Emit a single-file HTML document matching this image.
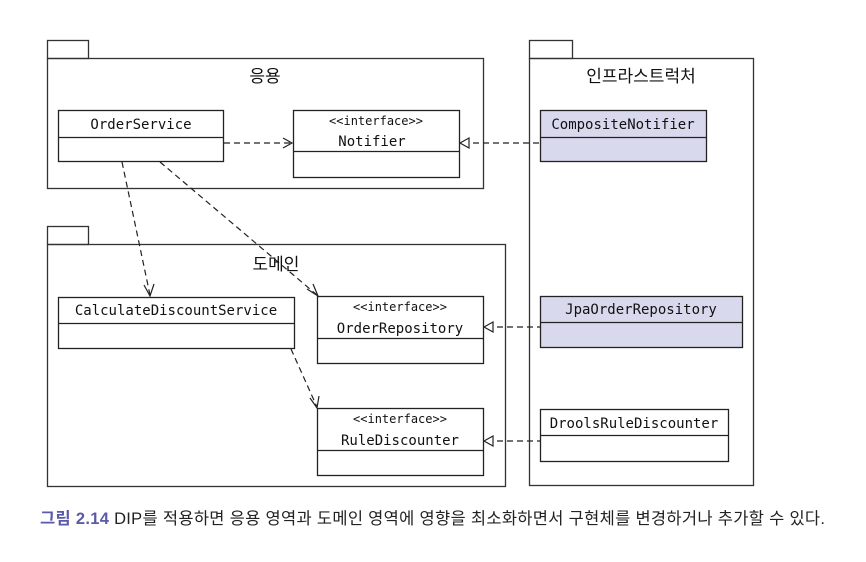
<!DOCTYPE html>
<html><head><meta charset="utf-8"><style>
html,body{margin:0;padding:0;background:#fff;}
svg{display:block;}
.m{font-family:"DejaVu Sans Mono","Liberation Mono",monospace;font-size:14px;fill:#111;}
.s{font-family:"DejaVu Sans Mono","Liberation Mono",monospace;font-size:12px;fill:#111;}
.k{font-family:"Liberation Sans","Noto Sans CJK KR",sans-serif;font-size:17px;fill:#111;}
</style></head><body>
<svg width="866" height="562" viewBox="0 0 866 562" xmlns="http://www.w3.org/2000/svg">
<g fill="none" stroke="#333" stroke-width="1.3">
<rect x="47.5" y="40.5" width="41" height="18"/>
<rect x="47.5" y="58.5" width="436" height="130"/>
<rect x="529.5" y="40.5" width="43" height="18"/>
<rect x="529.5" y="58.5" width="224" height="427"/>
<rect x="47.5" y="226.5" width="41" height="18"/>
<rect x="47.5" y="244.5" width="458" height="242"/>
</g>
<g stroke="#222" stroke-width="1.3">
<rect x="58.5" y="110.5" width="165" height="51" fill="#fff"/><line x1="58" y1="137.5" x2="224" y2="137.5"/>
<rect x="293.5" y="110.5" width="166" height="67" fill="#fff"/><line x1="293" y1="151.5" x2="460" y2="151.5"/>
<rect x="540.5" y="110.5" width="166" height="51" fill="#d9d9ee"/><line x1="540" y1="137.5" x2="707" y2="137.5"/>
<rect x="58.5" y="297.5" width="236" height="51" fill="#fff"/><line x1="58" y1="323.5" x2="295" y2="323.5"/>
<rect x="317.5" y="296.5" width="166" height="67" fill="#fff"/><line x1="317" y1="338.5" x2="484" y2="338.5"/>
<rect x="317.5" y="408.5" width="166" height="67" fill="#fff"/><line x1="317" y1="450.5" x2="484" y2="450.5"/>
<rect x="540.5" y="296.5" width="202" height="51" fill="#d9d9ee"/><line x1="540" y1="322.5" x2="743" y2="322.5"/>
<rect x="540.5" y="409.5" width="188" height="52" fill="#fff"/><line x1="540" y1="435.5" x2="729" y2="435.5"/>
</g>
<g fill="none" stroke="#222" stroke-width="1.2" stroke-dasharray="6,4">
<line x1="224" y1="143" x2="291" y2="143"/>
<line x1="463" y1="143" x2="540" y2="143"/>
<line x1="122" y1="162" x2="150" y2="295"/>
<line x1="160" y1="162" x2="317" y2="295"/>
<line x1="291" y1="349" x2="317" y2="407"/>
<line x1="487" y1="327" x2="540" y2="327"/>
<line x1="487" y1="441" x2="540" y2="441"/>
</g>
<g fill="none" stroke="#222" stroke-width="1.2">
<polyline points="283,138 292,143 283,148"/>
<polyline points="144,285 150,296 154,284"/>
<polyline points="307,289 318,296 313,284"/>
<polyline points="310,398 317,408 319,396"/>
<polygon points="460,143 469,138 469,148" fill="#fff"/>
<polygon points="484,327 493,322 493,332" fill="#fff"/>
<polygon points="484,441 493,436 493,446" fill="#fff"/>
</g>
<text class="k" x="265" y="82" text-anchor="middle">응용</text>
<text class="k" x="641" y="82" text-anchor="middle">인프라스트럭처</text>
<text class="k" x="276" y="270" text-anchor="middle">도메인</text>
<text class="m" x="141" y="129" text-anchor="middle">OrderService</text>
<text class="s" x="376" y="125" text-anchor="middle">&lt;&lt;interface&gt;&gt;</text>
<text class="m" x="372" y="146" text-anchor="middle">Notifier</text>
<text class="m" x="623" y="129" text-anchor="middle">CompositeNotifier</text>
<text class="m" x="176" y="315" text-anchor="middle">CalculateDiscountService</text>
<text class="s" x="400" y="311" text-anchor="middle">&lt;&lt;interface&gt;&gt;</text>
<text class="m" x="400" y="333" text-anchor="middle">OrderRepository</text>
<text class="s" x="400" y="423" text-anchor="middle">&lt;&lt;interface&gt;&gt;</text>
<text class="m" x="400" y="445" text-anchor="middle">RuleDiscounter</text>
<text class="m" x="641" y="314" text-anchor="middle">JpaOrderRepository</text>
<text class="m" x="634" y="428" text-anchor="middle">DroolsRuleDiscounter</text>
<text x="40" y="524" textLength="785" lengthAdjust="spacing" style="font-family:'Liberation Sans','Noto Sans CJK KR',sans-serif;font-size:16.5px;fill:#222;"><tspan style="fill:#5a5aa8;font-weight:bold">그림 2.14</tspan> DIP를 적용하면 응용 영역과 도메인 영역에 영향을 최소화하면서 구현체를 변경하거나 추가할 수 있다.</text>
</svg>
</body></html>
